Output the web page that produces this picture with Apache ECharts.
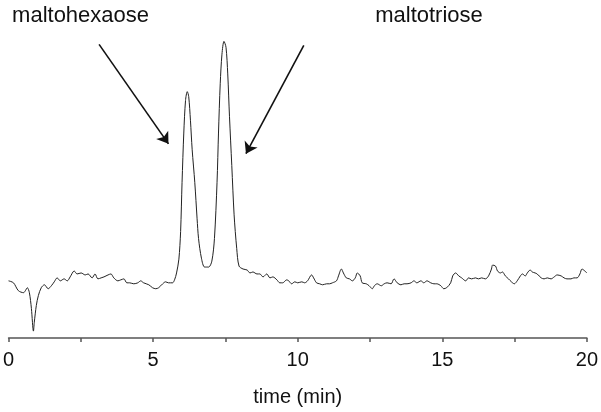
<!DOCTYPE html>
<html>
<head>
<meta charset="utf-8">
<script src="https://cdn.jsdelivr.net/npm/echarts@6/dist/echarts.min.js"></script>
<style>
html,body{margin:0;padding:0;background:#fff;}
#chart{width:601px;height:412px;}
</style>
</head>
<body>
<div id="chart"></div>
<script>
// retention time (min)
const time = [
 0.00,0.17,0.34,0.52,0.58,0.65,0.72,0.79,0.86,0.89,0.96,1.03,1.13,1.24,1.37,1.48,1.58,1.68,1.79,1.92,
 2.03,2.13,2.27,2.37,2.51,2.65,2.75,2.89,2.99,3.09,3.20,3.30,3.44,3.54,3.64,3.78,3.88,3.99,4.09,4.19,
 4.33,4.47,4.57,4.67,4.85,4.98,5.09,5.19,5.33,5.43,5.53,5.67,5.74,5.81,5.89,5.95,6.00,6.06,6.12,6.18,
 6.23,6.29,6.35,6.44,6.52,6.57,6.67,6.78,6.92,7.03,7.12,7.21,7.26,7.32,7.38,7.45,7.52,7.58,7.64,7.72,
 7.80,7.89,7.97,8.11,8.25,8.35,8.45,8.59,8.69,8.80,8.93,9.04,9.14,9.28,9.38,9.48,9.62,9.69,9.79,9.90,
 10.00,10.14,10.24,10.34,10.48,10.55,10.65,10.76,10.86,11.00,11.10,11.20,11.34,11.41,11.51,11.58,11.68,11.79,11.89,11.99,
 12.06,12.16,12.23,12.37,12.47,12.58,12.65,12.75,12.89,12.99,13.09,13.23,13.33,13.44,13.57,13.68,13.78,13.92,14.02,14.12,
 14.26,14.36,14.47,14.60,14.71,14.81,14.95,15.05,15.15,15.29,15.36,15.46,15.57,15.67,15.81,15.91,16.01,16.15,16.25,16.36,
 16.49,16.60,16.70,16.74,16.84,16.91,17.01,17.08,17.18,17.29,17.39,17.49,17.59,17.70,17.77,17.87,17.94,18.04,18.11,18.21,
 18.28,18.42,18.52,18.63,18.76,18.87,18.97,19.11,19.21,19.31,19.45,19.55,19.66,19.76,19.83,19.93,20.00
];
// detector signal (arbitrary units)
const signal = [
 58,56,48,46,48,51,46,30,7,16,33,43,51,54,50,53,57,61,58,60,
 58,62,68,65,66,64,65,61,65,60,61,62,64,65,61,58,59,60,56,56,
 55,56,58,56,54,51,50,51,55,57,56,56,59,66,80,108,158,208,241,250,
 245,221,191,158,121,101,81,72,72,78,101,158,208,258,288,301,295,268,225,175,
 125,91,73,70,69,66,67,65,65,62,65,61,62,59,56,56,59,58,55,57,
 56,57,56,58,64,61,56,55,54,55,55,56,58,63,70,66,61,60,58,61,
 66,63,56,55,53,50,53,55,53,55,56,55,60,56,54,55,55,56,58,56,
 58,56,58,56,55,55,53,50,51,56,63,66,63,61,58,61,60,61,60,61,
 60,63,70,74,73,68,66,67,63,60,57,55,58,63,65,63,66,69,67,66,
 65,61,60,61,60,62,64,63,61,60,60,61,61,65,70,68,66
];
// x-axis tick labels (every 5 min), ticks every 2.5 min
const tickLabels = ['0','5','10','15','20'];
// annotation labels and arrows (data coordinates: time, signal)
const annotLabels = ['maltohexaose','maltotriose'];
const annotLabelPos = [[2.49,327],[14.54,327]];
const arrowStart = [[3.13,298],[10.21,297]];
const arrowEnd = [[5.53,197],[8.21,187]];

const chart = echarts.init(document.getElementById('chart'), null, {renderer:'canvas'});
const FONT = 'Liberation Sans, Arial, Helvetica, sans-serif';

chart.setOption({
  animation:false,
  backgroundColor:'#fff',
  grid:{left:7,right:12,top:0,bottom:69,containLabel:false},
  xAxis:{
    type:'value',min:0,max:20,interval:2.5,
    name:'time (min)',nameLocation:'middle',nameGap:49,
    nameTextStyle:{color:'#111',fontSize:20,fontFamily:FONT},
    axisLine:{show:true,onZero:false,lineStyle:{color:'#555',width:1.5}},
    axisTick:{show:true,inside:false,length:4,lineStyle:{color:'#555',width:1.5}},
    axisLabel:{color:'#111',fontSize:20,fontFamily:FONT,margin:12,
      formatter:function(v){ return (v % 5 === 0) ? tickLabels[v/5] : ''; }},
    splitLine:{show:false}
  },
  yAxis:{type:'value',min:0,max:343,show:false},
  series:[{
    type:'line',
    data:time.map((t,i)=>[t,signal[i]]),
    showSymbol:false,
    smooth:0.3,
    lineStyle:{color:'#222',width:1},
    markLine:{
      silent:true,
      symbol:['none','arrow'],
      symbolSize:11,
      label:{show:false},
      lineStyle:{color:'#111',width:1.6,type:'solid'},
      data:arrowStart.map((s,i)=>[{coord:s},{coord:arrowEnd[i]}])
    },
    markPoint:{
      silent:true,
      symbol:'circle',symbolSize:0,
      data:annotLabels.map((txt,i)=>({
        coord:annotLabelPos[i],
        label:{show:true,position:'inside',formatter:txt,color:'#111',fontSize:22,fontFamily:FONT}
      }))
    }
  }]
});
</script>
</body>
</html>
